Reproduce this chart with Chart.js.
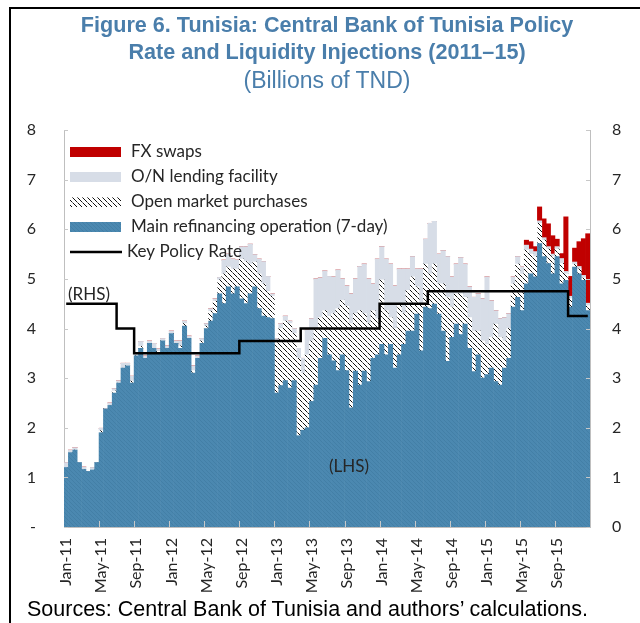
<!DOCTYPE html>
<html>
<head>
<meta charset="utf-8">
<script src="https://cdn.jsdelivr.net/npm/chart.js@4.4.0/dist/chart.umd.min.js"></script>
<style>
  body { margin: 0; background: #fff; }
  #wrap { position: relative; width: 640px; height: 623px; overflow: hidden; font-family: "Liberation Sans", Arial, sans-serif; }
  #chart { position: absolute; left: 0; top: 0; }
  .frame { position: absolute; background: #000; }
  .t { position: absolute; left: 10px; width: 634px; text-align: center; color: #4a7eab; line-height: 26px; white-space: nowrap; }
  #src { position: absolute; left: 27px; top: 597px; font-size: 21.5px; line-height: 24px; color: #000; white-space: nowrap; }
</style>
</head>
<body>
<div id="wrap">
  <canvas id="chart" width="640" height="623"></canvas>
  <div class="frame" style="left:9px;top:7px;width:631px;height:2px"></div>
  <div class="frame" style="left:9px;top:7px;width:2px;height:616px"></div>
  <div class="t" style="top:12px;font-weight:bold;font-size:21.6px">Figure 6. Tunisia: Central Bank of Tunisia Policy</div>
  <div class="t" style="top:39px;font-weight:bold;font-size:21.6px">Rate and Liquidity Injections (2011–15)</div>
  <div class="t" style="top:67px;font-size:23px">(Billions of TND)</div>
  <div id="src">Sources: Central Bank of Tunisia and authors’ calculations.</div>
</div>
<script>
// semi-monthly periods, Jan 2011 - Dec 2015
const monthNames = ["Jan", "Feb", "Mar", "Apr", "May", "Jun", "Jul", "Aug", "Sep", "Oct", "Nov", "Dec"];
const years = ["11", "12", "13", "14", "15"];
const tickLabels = ["Jan-11", "May-11", "Sep-11", "Jan-12", "May-12", "Sep-12", "Jan-13", "May-13",
                    "Sep-13", "Jan-14", "May-14", "Sep-14", "Jan-15", "May-15", "Sep-15"];

// Main refinancing operation (7-day)
const mro = [
  1.2, 1.5, 1.55, 1.3, 1.16, 1.12, 1.15, 1.3, 1.9, 2.38, 2.45, 2.7, 2.9, 3.2, 3.25, 2.9, 3.45, 3.6, 3.4, 3.7, 3.6, 3.5, 3.75, 3.6,
  3.9, 3.7, 3.6, 4.05, 3.8, 3.1, 3.4, 3.7, 4.0, 4.15, 4.3, 4.7, 4.5, 4.84, 4.7, 4.84, 4.6, 4.5, 4.7, 4.84, 4.4, 4.25, 4.22, 4.2,
  2.7, 2.85, 2.95, 2.8, 2.95, 1.84, 1.95, 2.0, 2.53, 2.86, 3.4, 3.8, 3.47, 3.35, 3.15, 3.47, 3.15, 2.4, 3.14, 2.86, 3.14, 2.93, 3.4, 3.47,
  3.68, 3.47, 3.68, 3.2, 3.47, 3.68, 3.95, 3.95, 4.29, 3.55, 4.43, 4.4, 4.49, 4.29, 3.95, 3.34, 3.82, 4.09, 3.88, 4.09, 3.6, 3.13, 3.47, 3.0,
  3.07, 3.2, 2.93, 2.86, 3.2, 3.4, 4.43, 4.63, 4.36, 4.9, 5.1, 5.04, 5.71, 5.45, 5.31, 5.1, 5.45, 4.9, 4.97, 4.43, 5.24, 5.1, 4.97, 4.36
];
// Open market purchases
const omo = [
  0, 0, 0, 0, 0, 0, 0, 0, 0.04, 0, 0, 0.04, 0, 0, 0, 0.04, 0, 0.04, 0, 0, 0, 0.04, 0, 0,
  0, 0, 0.05, 0.05, 0, 0.05, 0, 0.05, 0.05, 0.2, 0.25, 0.28, 0.6, 0.4, 0.5, 0.36, 0.8, 0.85, 0.6, 0.5, 0.7, 0.65, 0.53, 0.45,
  1.05, 1.15, 1.2, 1.3, 0.95, 1.56, 1.15, 1.47, 1.22, 1.14, 0.82, 0.56, 0.78, 0.95, 1.25, 1.1, 1.3, 1.7, 1.16, 1.5, 1.16, 1.17, 0.96, 0.73,
  1.3, 0.89, 0.54, 0.8, 1.03, 0.62, 0.82, 1.09, 0.55, 0.95, 0.87, 0.7, 0.81, 0.61, 0.95, 1.29, 0.61, 0.61, 0.82, 0.54, 0.62, 0.82, 0.48, 0.75,
  0.61, 0.62, 1.16, 0.96, 0.55, 0.6, 0.47, 0.67, 0.74, 0.68, 0.4, 0.41, 0.41, 0.33, 0.29, 0.35, 0.15, 0.41, 0.13, 0.17, 0.05, 0.1, 0.05, 0.1
];
// O/N lending facility
const onLending = [
  0.1, 0.05, 0.05, 0, 0.05, 0, 0.05, 0, 0.05, 0, 0.05, 0.05, 0.05, 0.1, 0.05, 0.1, 0.05, 0.1, 0.05, 0.05, 0.1, 0.05, 0.05, 0.05,
  0.05, 0.05, 0.1, 0.05, 0.05, 0.1, 0.05, 0.05, 0.05, 0.05, 0.05, 0.05, 0.28, 0.26, 0.2, 0.18, 0.25, 0.3, 0.4, 0.15, 0.3, 0.45, 0.3, 0.05,
  0.05, 0.1, 0.1, 0.05, 0.1, 0.2, 0.3, 0.5, 0.45, 1.0, 0.8, 0.8, 0.8, 0.74, 0.78, 0.43, 0.41, 0.6, 0.7, 0.89, 1.0, 0.9, 0.54, 1.2,
  0.67, 1.04, 1.08, 0.86, 0.7, 0.9, 0.43, 0.41, 0.36, 0.7, 0.5, 1.02, 0.86, 0.6, 0.67, 0.82, 0.61, 0.6, 0.73, 0.67, 0.62, 0.68, 0.75, 0.85,
  1.36, 0.74, 0.27, 0.38, 0.47, 0.3, 0.14, 0.15, 0.14, 0.1, 0.1, 0.1, 0.05, 0.05, 0.05, 0.05, 0.05, 0.1, 0.05, 0.05, 0.05, 0.05, 0.05, 0.05
];
// FX swaps
const fxSwaps = [
  0, 0, 0, 0, 0, 0, 0, 0, 0, 0, 0, 0, 0, 0, 0, 0, 0, 0, 0, 0, 0, 0, 0, 0,
  0, 0, 0, 0, 0, 0, 0, 0, 0, 0, 0, 0, 0, 0, 0, 0, 0, 0, 0, 0, 0, 0, 0, 0,
  0, 0, 0, 0, 0, 0, 0, 0, 0, 0, 0, 0, 0, 0, 0, 0, 0, 0, 0, 0, 0, 0, 0, 0,
  0, 0, 0, 0, 0, 0, 0, 0, 0, 0, 0, 0, 0, 0, 0, 0, 0, 0, 0, 0, 0, 0, 0, 0,
  0, 0, 0, 0, 0, 0, 0, 0, 0, 0.1, 0.15, 0.1, 0.28, 0.38, 0.46, 0.37, 0.15, 0.1, 1.1, 0.4, 0.28, 0.5, 0.74, 1.4
];
// Key policy rate (percent, RHS)
const policyRate = [
  4.5, 4.5, 4.5, 4.5, 4.5, 4.5, 4.5, 4.5, 4.5, 4.5, 4.5, 4.5, 4.0, 4.0, 4.0, 4.0, 3.5, 3.5, 3.5, 3.5, 3.5, 3.5, 3.5, 3.5,
  3.5, 3.5, 3.5, 3.5, 3.5, 3.5, 3.5, 3.5, 3.5, 3.5, 3.5, 3.5, 3.5, 3.5, 3.5, 3.5, 3.75, 3.75, 3.75, 3.75, 3.75, 3.75, 3.75, 3.75,
  3.75, 3.75, 3.75, 3.75, 3.75, 3.75, 4.0, 4.0, 4.0, 4.0, 4.0, 4.0, 4.0, 4.0, 4.0, 4.0, 4.0, 4.0, 4.0, 4.0, 4.0, 4.0, 4.0, 4.0,
  4.5, 4.5, 4.5, 4.5, 4.5, 4.5, 4.5, 4.5, 4.5, 4.5, 4.5, 4.75, 4.75, 4.75, 4.75, 4.75, 4.75, 4.75, 4.75, 4.75, 4.75, 4.75, 4.75, 4.75,
  4.75, 4.75, 4.75, 4.75, 4.75, 4.75, 4.75, 4.75, 4.75, 4.75, 4.75, 4.75, 4.75, 4.75, 4.75, 4.75, 4.75, 4.75, 4.75, 4.25, 4.25, 4.25, 4.25, 4.25
];

const categories = [];
years.forEach(y => monthNames.forEach(m => { categories.push(m + "-" + y + " a"); categories.push(m + "-" + y + " b"); }));

// fill patterns
function makePattern(size, bg, draw) {
  const c = document.createElement("canvas");
  c.width = size; c.height = size;
  const g = c.getContext("2d");
  g.fillStyle = bg; g.fillRect(0, 0, size, size);
  draw(g);
  return g.createPattern(c, "repeat");
}
const cx = document.getElementById("chart").getContext("2d");
const bluePat = makePattern(4, "#4b88b0", g => {
  g.fillStyle = "#437fa6";
  for (let i = 0; i < 4; i++) g.fillRect(i, i, 1, 1);
});
const hatchPat = makePattern(5, "#ffffff", g => {
  for (let i = 0; i < 5; i++) {
    g.fillStyle = i === 2 ? "#777777" : "#111111";
    g.fillRect(i, i, 1, 1);
  }
});
const blueCol = "#4b88b0", onCol = "#d7dde7", fxCol = "#c00000";
const txtFont = '"Lato", "DejaVu Sans", sans-serif';

// legend, labels and inward tick marks
const extras = {
  id: "extras",
  afterDatasetsDraw(chart) {
    const { ctx, chartArea: a, scales } = chart;
    ctx.save();
    ctx.strokeStyle = "#c8c8c8";
    ctx.lineWidth = 1;
    ctx.beginPath();
    const half = (scales.x.getPixelForValue(1) - scales.x.getPixelForValue(0)) / 2;
    for (let i = 8; i < categories.length; i += 8) {
      const px = Math.round(scales.x.getPixelForValue(i) - half) + 0.5;
      ctx.moveTo(px, a.bottom); ctx.lineTo(px, a.bottom - 6);
    }
    for (let v = 0; v <= 8; v++) {
      const py = Math.round(scales.y.getPixelForValue(v)) + 0.5;
      ctx.moveTo(a.left, py); ctx.lineTo(a.left + 4, py);
      ctx.moveTo(a.right, py); ctx.lineTo(a.right - 4, py);
    }
    ctx.stroke();

    // legend
    const items = [
      { label: "FX swaps", fill: fxCol, y: 152 },
      { label: "O/N lending facility", fill: onCol, y: 177 },
      { label: "Open market purchases", fill: hatchPat, y: 202 },
      { label: "Main refinancing operation (7-day)", fill: bluePat, y: 227 },
      { label: "Key Policy Rate", line: true, y: 252 }
    ];
    ctx.font = "17px " + txtFont;
    ctx.textBaseline = "middle";
    items.forEach(it => {
      if (it.line) {
        ctx.strokeStyle = "#000"; ctx.lineWidth = 2.5;
        ctx.beginPath(); ctx.moveTo(70, it.y); ctx.lineTo(122, it.y); ctx.stroke();
        ctx.fillStyle = "#262626";
        ctx.fillText(it.label, 127, it.y);
      } else {
        ctx.fillStyle = it.fill;
        ctx.fillRect(70, it.y - 5, 51, 10);
        ctx.fillStyle = "#262626";
        ctx.fillText(it.label, 131, it.y);
      }
    });
    ctx.fillStyle = "#262626";
    ctx.fillText("(RHS)", 68, 295);
    ctx.fillText("(LHS)", 329, 467);
    ctx.restore();
  }
};

new Chart(cx, {
  data: {
    labels: categories,
    datasets: [
      { type: "line", label: "Key Policy Rate", data: policyRate, yAxisID: "y1", stepped: "middle",
        borderColor: "#000", borderWidth: 2.5, pointRadius: 0, order: 0 },
      { type: "bar", label: "Main refinancing operation (7-day)", data: mro, backgroundColor: bluePat, order: 1 },
      { type: "bar", label: "Open market purchases", data: omo, backgroundColor: hatchPat, order: 1 },
      { type: "bar", label: "O/N lending facility", data: onLending, backgroundColor: onCol, order: 1 },
      { type: "bar", label: "FX swaps", data: fxSwaps, backgroundColor: fxCol, order: 1 }
    ]
  },
  options: {
    responsive: false,
    animation: false,
    layout: { padding: { top: 130, left: 0, right: 0, bottom: 0 } },
    datasets: { bar: { barPercentage: 1, categoryPercentage: 1, borderWidth: 0 } },
    plugins: { legend: { display: false }, tooltip: { enabled: false } },
    scales: {
      x: {
        stacked: true,
        offset: true,
        grid: { display: false },
        border: { display: true, color: "#bfbfbf" },
        ticks: {
          autoSkip: false, minRotation: 90, maxRotation: 90, padding: 3,
          color: "#262626", font: { family: txtFont, size: 16 },
          callback: (v, i) => (i % 8 === 0 ? tickLabels[i / 8] : null)
        },
        afterFit: s => { s.height = 96; }
      },
      y: {
        stacked: true, position: "left", min: 0, max: 8,
        grid: { display: false },
        border: { display: true, color: "#bfbfbf" },
        ticks: { stepSize: 1, padding: 20, color: "#262626", font: { family: txtFont, size: 16 },
                 callback: v => (v === 0 ? "-" : v) },
        afterFit: s => { s.width = 64; }
      },
      y1: {
        position: "right", min: 0, max: 8,
        grid: { display: false },
        border: { display: true, color: "#bfbfbf" },
        ticks: { stepSize: 1, padding: 14, color: "#262626", font: { family: txtFont, size: 16 } },
        afterFit: s => { s.width = 50; }
      }
    }
  },
  plugins: [extras]
});
</script>
</body>
</html>
